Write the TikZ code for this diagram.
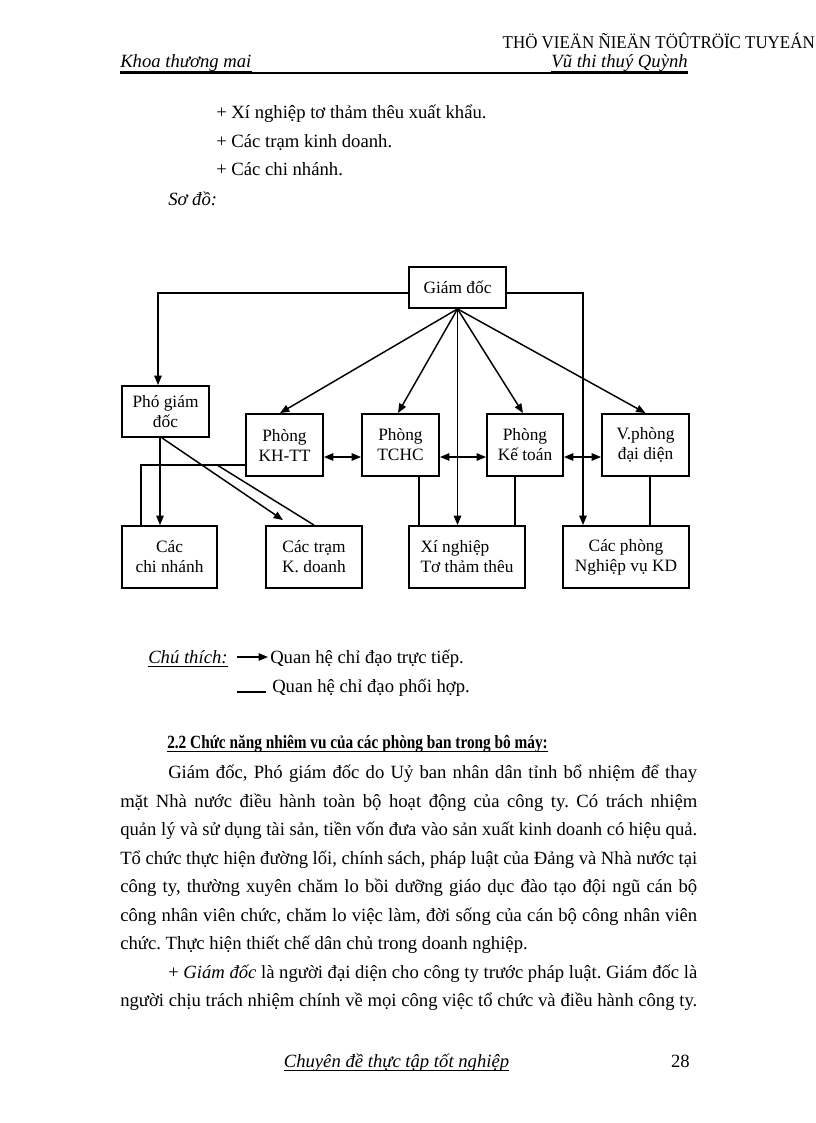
\documentclass[tikz,border=0pt]{standalone}
\usepackage{fontspec}
\setmainfont{Liberation Serif}
\usetikzlibrary{arrows.meta,calc}

\newcommand\ulnode[1]{\draw[line width=0.6pt] ($(#1.base west)+(0,3)$) -- ($(#1.base east)+(0,3)$);}
\newcommand\jline[4]{\node[txt] (#1) at (#2,#3) {\hbox to \dimexpr 0.75pt*(697-#2)\relax{#4}};}

\begin{document}
\frenchspacing
\begin{tikzpicture}[x=0.75pt,y=-0.75pt,
    txt/.style={anchor=base west,inner sep=0pt,font=\fontsize{14}{17}\selectfont},
    box/.style={draw,line width=1.4pt,align=center,inner sep=2pt,font=\fontsize{13}{15}\selectfont},
    boxsize/.style 2 args={minimum width=#1*0.75pt,minimum height=#2*0.75pt},
    arr/.style={line width=1.1pt,-{Triangle[length=7pt,width=5.5pt]}},
    darr/.style={line width=1.1pt,{Triangle[length=7pt,width=5.5pt]}-{Triangle[length=7pt,width=5.5pt]}},
    link/.style={line width=1.1pt}]
  \useasboundingbox (0,0) rectangle (816,1123);

  % header
  \node[txt,anchor=base east] (thuvien) at (815,49) {\scalebox{0.94}[1]{\fontsize{13.5}{16}\selectfont THÖ VIEÄN ÑIEÄN TÖÛTRÖÏC TUYEÁN}};
  \node[txt] (khoa) at (120,68) {\itshape Khoa thương mai};
  \node[txt,anchor=base east] (tacgia) at (688,68) {\itshape Vũ thi thuý Quỳnh};
  \ulnode{khoa}
  \ulnode{tacgia}
  \draw[line width=1.5pt] ($(khoa.base west)+(0,5.5)$) -- ($(tacgia.base east)+(0,5.5)$);

  \node[txt] (xn1) at (216,119) {+ Xí nghiệp tơ thảm thêu xuất khẩu.};
  \node[txt] (tram1) at (216,148) {+ Các trạm kinh doanh.};
  \node[txt] (cn1) at (216,176) {+ Các chi nhánh.};
  \node[txt] (sodo) at (168,205) {\itshape Sơ đồ:};

  % so do
  \node[box,boxsize={97}{41}] (gd) at (457.5,287.5) {Giám đốc};
  \node[box,boxsize={87}{51}] (pgd) at (165.5,411.5) {Phó giám\\đốc};
  \node[box,boxsize={77}{62}] (khtt) at (284.5,445) {Phòng\\KH-TT};
  \node[box,boxsize={77}{62}] (tchc) at (400.5,445) {Phòng\\TCHC};
  \node[box,boxsize={76}{62}] (ketoan) at (525,445) {Phòng\\Kế toán};
  \node[box,boxsize={87}{62}] (vphong) at (645.5,445) {V.phòng\\đại diện};
  \node[box,boxsize={95}{62}] (chinhanh) at (169.5,557) {Các\\chi nhánh};
  \node[box,boxsize={96}{62}] (tram) at (314,557) {Các trạm\\K. doanh};
  \node[box,boxsize={116}{62},align=left] (xn) at (467,557) {Xí nghiệp\\Tơ thảm thêu};
  \node[box,boxsize={126}{62}] (cacphong) at (626,557) {Các phòng\\Nghiệp vụ KD};

  \draw[arr] ($(gd.west)+(0,5.5)$) -| ($(pgd.north)+(-7.5,0)$);
  \draw[arr] ($(gd.east)+(0,5.5)$) -| ($(cacphong.north)+(-43,0)$);
  \foreach \t/\dx in {khtt/-4.5,tchc/-2.5,ketoan/-2,vphong/0}
    \draw[arr] (gd.south) -- ($(\t.north)+(\dx,0)$);
  \draw[arr] (gd.south) -- (gd.south |- xn.north);
  \foreach \a/\b in {khtt/tchc,tchc/ketoan,ketoan/vphong}
    \draw[darr] ($(\a.east)+(0,12)$) -- ($(\b.west)+(0,12)$);

  \coordinate (tc1) at ($(tchc.south)+(18.5,0)$);
  \coordinate (kt1) at ($(ketoan.south)+(-10,0)$);
  \coordinate (vp1) at ($(vphong.south)+(4.5,0)$);
  \draw[link] (tc1) -- (tc1 |- xn.north);
  \draw[link] (kt1) -- (kt1 |- xn.north);
  \draw[link] (vp1) -- (vp1 |- cacphong.north);

  \coordinate (pg1) at ($(pgd.south)+(-5.5,0)$);
  \coordinate (pg2) at ($(pgd.south)+(-3.5,0)$);
  \draw[arr] (pg1) -- (pg1 |- chinhanh.north);
  \draw[arr] (pg2) -- ($(tram.north)+(-31,-5)$);
  \coordinate (kh1) at ($(khtt.west)+(0,20)$);
  \coordinate (kh2) at ($(khtt.west)+(-28,20)$);
  \draw[link] (kh1) -| ($(chinhanh.north)+(-28.5,0)$);
  \draw[link] (kh2) -- (tram.north);

  % chu thich
  \node[txt] (chuthich) at (148,663) {\itshape Chú thích:};
  \ulnode{chuthich}
  \coordinate (lg1a) at (237,657);
  \coordinate (lg1b) at (268,657);
  \draw[arr] (lg1a) -- (lg1b);
  \node[txt] (qh1) at (270,663) {Quan hệ chỉ đạo trực tiếp.};
  \coordinate (lg2a) at (237,692);
  \coordinate (lg2b) at (266,692);
  \draw[line width=0.8pt] (lg2a) -- (lg2b);
  \node[txt] (qh2) at (272,692) {Quan hệ chỉ đạo phối hợp.};

  % muc 2.2
  \node[txt] (muc) at (167,748) {\scalebox{0.82}[1]{\bfseries 2.2 Chức năng nhiêm vu của các phòng ban trong bô máy:}};
  \ulnode{muc}
  \jline{p1}{168}{778}{Giám đốc, Phó giám đốc do Uỷ ban nhân dân tỉnh bổ nhiệm để thay}
  \jline{p2}{120}{807}{mặt Nhà nước điều hành toàn bộ hoạt động của công ty. Có trách nhiệm}
  \jline{p3}{120}{835}{quản lý và sử dụng tài sản, tiền vốn đưa vào sản xuất kinh doanh có hiệu quả.}
  \jline{p4}{120}{864}{Tổ chức thực hiện đường lối, chính sách, pháp luật của Đảng và Nhà nước tại}
  \jline{p5}{120}{892}{công ty, thường xuyên chăm lo bồi dưỡng giáo dục đào tạo đội ngũ cán bộ}
  \jline{p6}{120}{921}{công nhân viên chức, chăm lo việc làm, đời sống của cán bộ công nhân viên}
  \node[txt] (p7) at (120,949) {chức. Thực hiện thiết chế dân chủ trong doanh nghiệp.};
  \jline{p8}{168}{978}{+ \textit{Giám đốc} là người đại diện cho công ty trước pháp luật. Giám đốc là}
  \jline{p9}{120}{1006}{người chịu trách nhiệm chính về mọi công việc tổ chức và điều hành công ty.}

  % footer
  \node[txt,anchor=base] (chuyende) at (396.5,1067) {\itshape Chuyên đề thực tập tốt nghiệp};
  \ulnode{chuyende}
  \node[txt,anchor=base east] (trang) at (690,1067) {28};
\end{tikzpicture}
\end{document}
